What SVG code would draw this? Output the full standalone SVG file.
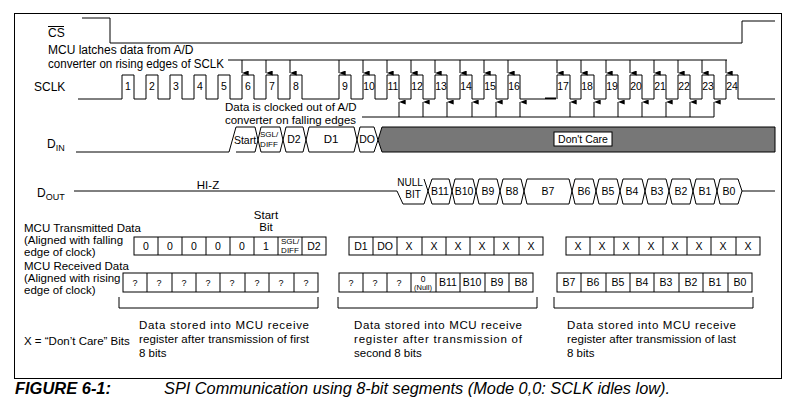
<svg xmlns="http://www.w3.org/2000/svg" width="800" height="410" viewBox="0 0 800 410">
<style>
text{font-family:"Liberation Sans",Arial,sans-serif;fill:#000}
.l{font-size:11.5px}
.t{font-size:12px}
.s{font-size:10.5px}
.c{text-anchor:middle}
.w{fill:none;stroke:#000;stroke-width:1}
.cell{fill:#fff;stroke:#000;stroke-width:1}
</style>
<defs>
<marker id="ah" viewBox="0 0 6 8" refX="3" refY="8" markerWidth="5" markerHeight="7" orient="auto-start-reverse"><path d="M0,0 L6,0 L3,8 Z" fill="#000"/></marker>
<marker id="au" viewBox="0 0 6 8" refX="3" refY="0" markerWidth="5" markerHeight="7" orient="auto"><path d="M0,8 L6,8 L3,0 Z" fill="#000"/></marker>
</defs>
<rect x="0" y="0" width="800" height="410" fill="#fff"/>
<rect x="14.5" y="13.5" width="767" height="365" fill="none" stroke="#000"/>

<g id="cs">
<text x="48" y="37" class="t">CS</text>
<line x1="48" y1="26.5" x2="64" y2="26.5" stroke="#000"/>
<path class="w" d="M82,18 H110 V43 H742 V21 H775"/>
</g>

<g id="latch-label">
<text x="48" y="54" class="t">MCU latches data from A/D</text>
<text x="48" y="68" class="t" textLength="176" lengthAdjust="spacingAndGlyphs">converter on rising edges of SCLK</text>
</g>

<g id="sclk">
<text x="34" y="91" class="t">SCLK</text>
<path class="w" d="M78,99 H122 V75 H134 V99 H146 V75 H158 V99 H170 V75 H182 V99 H194 V75 H206 V99 H218 V75 H230 V99 H242 V75 H254 V99 H266 V75 H278 V99 H290 V75 H302 V99 H339 V75 H351 V99 H363 V75 H375 V99 H387 V75 H399 V99 H411 V75 H423 V99 H435 V75 H447 V99 H460 V75 H472 V99 H484 V75 H496 V99 H508 V75 H520 V99 H545 M557,99 V75 H570 V99 H581 V75 H594 V99 H606 V75 H618 V99 H630 V75 H642 V99 H654 V75 H666 V99 H678 V75 H690 V99 H702 V75 H714 V99 H726 V75 H738 V99 H775"/>
<line x1="545" y1="98.5" x2="556" y2="98.5" stroke="#000" stroke-width="2"/>
<g class="s c">
<text x="128" y="90">1</text><text x="152" y="90">2</text><text x="176" y="90">3</text><text x="200" y="90">4</text><text x="224" y="90">5</text><text x="248" y="90">6</text><text x="272" y="90">7</text><text x="296" y="90">8</text><text x="345" y="90">9</text><text x="369" y="90">10</text><text x="393" y="90">11</text><text x="417" y="90">12</text><text x="441" y="90">13</text><text x="466" y="90">14</text><text x="490" y="90">15</text><text x="514" y="90">16</text><text x="563" y="90">17</text><text x="587" y="90">18</text><text x="612" y="90">19</text><text x="636" y="90">20</text><text x="660" y="90">21</text><text x="684" y="90">22</text><text x="708" y="90">23</text><text x="732" y="90">24</text>
</g>
</g>

<g id="connectors">
<line x1="228" y1="60" x2="727" y2="60" stroke="#000"/>
<g stroke="#000" marker-end="url(#ah)">
<line x1="242" y1="60" x2="242" y2="73"/><line x1="266" y1="60" x2="266" y2="73"/><line x1="290" y1="60" x2="290" y2="73"/><line x1="339" y1="60" x2="339" y2="73"/><line x1="363" y1="60" x2="363" y2="73"/><line x1="387" y1="60" x2="387" y2="73"/><line x1="411" y1="60" x2="411" y2="73"/><line x1="435" y1="60" x2="435" y2="73"/><line x1="460" y1="60" x2="460" y2="73"/><line x1="484" y1="60" x2="484" y2="73"/><line x1="508" y1="60" x2="508" y2="73"/><line x1="557" y1="60" x2="557" y2="73"/><line x1="581" y1="60" x2="581" y2="73"/><line x1="606" y1="60" x2="606" y2="73"/><line x1="630" y1="60" x2="630" y2="73"/><line x1="654" y1="60" x2="654" y2="73"/><line x1="678" y1="60" x2="678" y2="73"/><line x1="702" y1="60" x2="702" y2="73"/><line x1="726" y1="60" x2="726" y2="73"/>
</g>
<line x1="362" y1="117" x2="714" y2="117" stroke="#000"/>
<g stroke="#000" marker-end="url(#au)">
<line x1="399" y1="117" x2="399" y2="102"/><line x1="423" y1="117" x2="423" y2="102"/><line x1="447" y1="117" x2="447" y2="102"/><line x1="472" y1="117" x2="472" y2="102"/><line x1="496" y1="117" x2="496" y2="102"/><line x1="520" y1="117" x2="520" y2="102"/><line x1="570" y1="117" x2="570" y2="102"/><line x1="594" y1="117" x2="594" y2="102"/><line x1="618" y1="117" x2="618" y2="102"/><line x1="642" y1="117" x2="642" y2="102"/><line x1="666" y1="117" x2="666" y2="102"/><line x1="690" y1="117" x2="690" y2="102"/><line x1="714" y1="117" x2="714" y2="102"/>
</g>
</g>

<g id="clockout-label">
<text x="225" y="111" font-size="11.5">Data is clocked out of A/D</text>
<text x="225" y="124" font-size="11.5" textLength="131" lengthAdjust="spacingAndGlyphs">converter on falling edges</text>
</g>

<g id="din">
<text x="47" y="148" class="t">D<tspan font-size="9" dy="3">IN</tspan></text>
<path class="w" d="M76,152 H229 L236,127 H255 L258,140 L261,127 H280 L283,140 L286,127 H303 L306,140 L309,127 H354 L357,140 L360,127 H374 L378,140 L374,152 H360 L357,140 L354,152 H309 L306,140 L303,152 H286 L283,140 L280,152 H261 L258,140 L255,152 H236"/>
<path d="M378,140 L382,127 H775 V152 H382 Z" fill="#777" stroke="#000"/>
<text x="245" y="144" class="s c">Start</text>
<text x="269" y="137" font-size="8" class="c">SGL/</text>
<text x="269" y="147" font-size="8" class="c">DIFF</text>
<text x="294" y="143" class="s c">D2</text>
<text x="331" y="143" class="l c">D1</text>
<text x="367" y="143" class="s c">DO</text>
<rect x="554" y="132" width="58" height="14" fill="#fff" stroke="#000"/>
<text x="583" y="143" class="s c">Don't Care</text>
</g>

<g id="dout">
<text x="37" y="197" class="t">D<tspan font-size="9" dy="3">OUT</tspan></text>
<text x="208" y="189" class="l c">HI-Z</text>
<path class="w" d="M74,191 H397 L403,204 H424 L428,191 L424,179 M428,191 L432,179 H449 L452,191 L455,179 H473 L476,191 L479,179 H497 L500,191 L503,179 H521 L524,191 L527,179 H569 L572,191 L575,179 H593 L596,191 L599,179 H617 L620,191 L623,179 H642 L645,191 L648,179 H666 L669,191 L672,179 H690 L693,191 L696,179 H714 L717,191 L720,179 H738 L742,191 H775 M742,191 L738,204 H720 L717,191 L714,204 H696 L693,191 L690,204 H672 L669,191 L666,204 H648 L645,191 L642,204 H623 L620,191 L617,204 H599 L596,191 L593,204 H575 L572,191 L569,204 H527 L524,191 L521,204 H503 L500,191 L497,204 H479 L476,191 L473,204 H455 L452,191 L449,204 H432 L428,191"/>
<text x="410" y="186" font-size="10" class="c">NULL</text>
<text x="413" y="198" font-size="10" class="c">BIT</text>
<g class="s c">
<text x="440" y="195">B11</text><text x="464" y="195">B10</text><text x="488" y="195">B9</text><text x="512" y="195">B8</text><text x="548" y="195">B7</text><text x="584" y="195">B6</text><text x="608" y="195">B5</text><text x="632" y="195">B4</text><text x="657" y="195">B3</text><text x="681" y="195">B2</text><text x="705" y="195">B1</text><text x="729" y="195">B0</text>
</g>
</g>

<g id="tx-label">
<text x="24" y="232" class="l">MCU Transmitted Data</text>
<text x="24" y="244" class="l">(Aligned with falling</text>
<text x="24" y="256" class="l">edge of clock)</text>
<text x="266" y="219" class="l c">Start</text>
<text x="266" y="231" class="l c">Bit</text>
</g>

<g id="tx1">
<rect class="cell" x="134" y="237" width="192" height="18"/>
<path class="w" d="M158,237V255M182,237V255M206,237V255M230,237V255M254,237V255M278,237V255M302,237V255"/>
<g class="s c"><text x="146" y="250">0</text><text x="170" y="250">0</text><text x="194" y="250">0</text><text x="218" y="250">0</text><text x="242" y="250">0</text><text x="266" y="250">1</text><text x="314" y="250">D2</text></g>
<text x="290" y="244" font-size="8" class="c">SGL/</text>
<text x="290" y="253" font-size="8" class="c">DIFF</text>
</g>

<g id="tx2">
<rect class="cell" x="349" y="237" width="194" height="18"/>
<path class="w" d="M373,237V255M397,237V255M422,237V255M446,237V255M470,237V255M494,237V255M519,237V255"/>
<g class="s c"><text x="361" y="250">D1</text><text x="385" y="250">DO</text><text x="409" y="250">X</text><text x="434" y="250">X</text><text x="458" y="250">X</text><text x="482" y="250">X</text><text x="506" y="250">X</text><text x="531" y="250">X</text></g>
</g>

<g id="tx3">
<rect class="cell" x="566" y="237" width="194" height="18"/>
<path class="w" d="M590,237V255M614,237V255M639,237V255M663,237V255M687,237V255M711,237V255M736,237V255"/>
<g class="s c"><text x="578" y="250">X</text><text x="602" y="250">X</text><text x="626" y="250">X</text><text x="651" y="250">X</text><text x="675" y="250">X</text><text x="699" y="250">X</text><text x="723" y="250">X</text><text x="748" y="250">X</text></g>
</g>

<g id="rx-label">
<text x="24" y="270" class="l">MCU Received Data</text>
<text x="24" y="282" class="l">(Aligned with rising</text>
<text x="24" y="294" class="l">edge of clock)</text>
</g>

<g id="rx1">
<rect class="cell" x="123" y="273" width="195" height="19"/>
<path class="w" d="M147,273V292M172,273V292M196,273V292M220,273V292M245,273V292M269,273V292M294,273V292"/>
<g font-size="9" class="c"><text x="135" y="286">?</text><text x="159" y="286">?</text><text x="184" y="286">?</text><text x="208" y="286">?</text><text x="232" y="286">?</text><text x="257" y="286">?</text><text x="281" y="286">?</text><text x="306" y="286">?</text></g>
</g>

<g id="rx2">
<rect class="cell" x="339" y="273" width="194" height="19"/>
<path class="w" d="M363,273V292M387,273V292M411,273V292M436,273V292M460,273V292M485,273V292M509,273V292"/>
<g font-size="9" class="c"><text x="351" y="286">?</text><text x="375" y="286">?</text><text x="399" y="286">?</text></g>
<text x="423" y="282" font-size="8.5" class="c">0</text>
<text x="423" y="290" font-size="7.5" class="c">(Null)</text>
<g class="s c"><text x="448" y="286">B11</text><text x="472" y="286">B10</text><text x="497" y="286">B9</text><text x="521" y="286">B8</text></g>
</g>

<g id="rx3">
<rect class="cell" x="557" y="273" width="195" height="19"/>
<path class="w" d="M581,273V292M606,273V292M630,273V292M654,273V292M679,273V292M703,273V292M728,273V292"/>
<g class="s c"><text x="569" y="286">B7</text><text x="593" y="286">B6</text><text x="618" y="286">B5</text><text x="642" y="286">B4</text><text x="666" y="286">B3</text><text x="691" y="286">B2</text><text x="715" y="286">B1</text><text x="740" y="286">B0</text></g>
</g>

<g id="brackets">
<path class="w" d="M119,297V308H318V297M338,297V308H537V297M554,297V308H753V297"/>
</g>

<g id="notes" class="l">
<text x="24" y="345">X = “Don’t Care” Bits</text>
<text x="139" y="329" textLength="170" lengthAdjust="spacing">Data stored into MCU receive</text>
<text x="139" y="343" textLength="170" lengthAdjust="spacing">register after transmission of first</text>
<text x="139" y="357">8 bits</text>
<text x="354" y="329" textLength="168" lengthAdjust="spacing">Data stored into MCU receive</text>
<text x="354" y="343" textLength="168" lengthAdjust="spacing">register after transmission of</text>
<text x="354" y="357">second 8 bits</text>
<text x="567" y="329" textLength="169" lengthAdjust="spacing">Data stored into MCU receive</text>
<text x="567" y="343" textLength="169" lengthAdjust="spacing">register after transmission of last</text>
<text x="567" y="357">8 bits</text>
</g>

<g id="caption">
<text x="15" y="394" font-size="16" font-weight="bold" font-style="italic" textLength="96" lengthAdjust="spacingAndGlyphs">FIGURE 6-1:</text>
<text x="164" y="394" font-size="16" font-style="italic" textLength="506" lengthAdjust="spacingAndGlyphs">SPI Communication using 8-bit segments (Mode 0,0: SCLK idles low).</text>
</g>
</svg>
